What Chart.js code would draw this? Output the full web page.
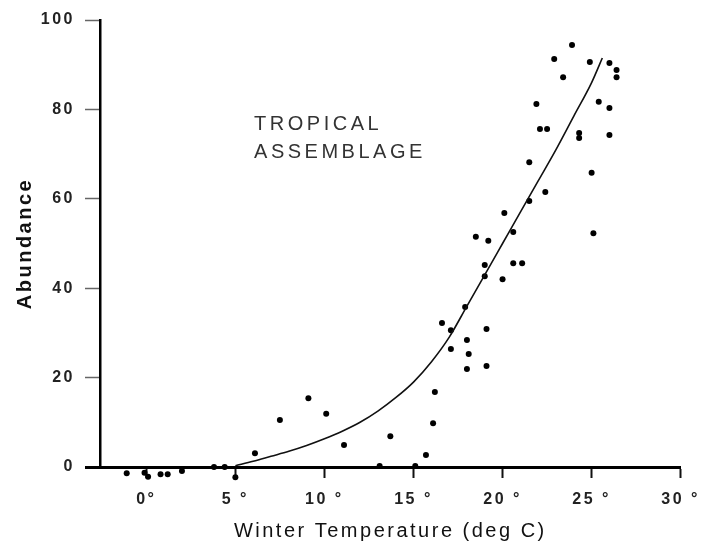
<!DOCTYPE html>
<html>
<head>
<meta charset="utf-8">
<script src="https://cdn.jsdelivr.net/npm/chart.js@4.4.0/dist/chart.umd.min.js"></script>
<style>
    html, body { margin: 0; padding: 0; background: #fff; }
    canvas { display: block; }
</style>
</head>
<body>
<canvas id="chart" width="707" height="545"></canvas>
<script>
const pointTemp = [
    -1.1, -0.1, 0.1, 0.8, 1.2, 2.0, 3.8, 4.4, 5.0,
    6.1, 7.5, 9.1, 10.1, 11.1, 13.1, 13.7, 15.1, 15.7, 16.1, 16.2,
    16.6, 17.1, 17.1, 17.9, 18.0, 18.1, 18.0, 18.5, 19.0, 19.0,
    19.1, 19.1, 19.2, 20.0, 20.1, 20.6, 20.6, 21.1, 21.5, 21.5,
    21.9, 22.1, 22.5, 22.4, 22.9, 23.4, 23.9, 24.3, 24.3, 24.9,
    25.0, 25.1, 25.4, 26.0, 26.4, 26.4, 26.0, 26.0
];
const pointAbund = [
    -1.4, -1.3, -2.2, -1.6, -1.6, -0.9, 0, 0, -2.3,
    3.1, 10.5, 15.4, 11.9, 4.9, 0.2, 6.9, 0.2, 2.7, 9.8, 16.8,
    32.2, 30.6, 26.4, 35.8, 28.4, 25.3, 21.9, 51.5, 45.2, 42.7,
    30.9, 22.6, 50.6, 42.0, 56.8, 52.6, 45.6, 45.6, 59.5, 68.2,
    81.2, 75.6, 75.6, 61.5, 91.3, 87.2, 94.4, 74.7, 73.6, 90.6,
    65.8, 52.3, 81.7, 90.4, 88.8, 87.2, 80.3, 74.3
];

// Fitted curve
const curveTemp  = [5, 6, 7, 8, 9, 10, 11, 12, 13, 14, 15, 16, 17, 18, 19, 20, 21, 22, 23, 24, 25, 25.6];
const curveAbund = [0.3, 1.3, 2.4, 3.5, 4.8, 6.3, 8, 10, 12.5, 15.5, 19, 23.5, 29, 36, 43, 50, 57, 64, 71, 78.5, 86, 91.5];

// Axis ticks
const xTickValues = [0, 5, 10, 15, 20, 25, 30];
const xTickLabels = ['0°', '5 °', '10 °', '15 °', '20 °', '25 °', '30 °'];
const yTickValues = [0, 20, 40, 60, 80, 100];
const yTickLabels = ['0', '20', '40', '60', '80', '100'];

const annotationLines = ['TROPICAL', 'ASSEMBLAGE'];

const fontFamily = '"Liberation Sans", Arial, sans-serif';
const textColor = '#111';

function toXY(xs, ys) {
    return xs.map((x, i) => ({ x: x, y: ys[i] }));
}

// wide letter spacing like the original lettering
const spacingPlugin = {
    id: 'spacing',
    beforeDraw(chart) { chart.ctx.letterSpacing = '2.5px'; },
    afterDraw(chart) { chart.ctx.letterSpacing = '0px'; }
};

// let the samples just under zero show below the axis line
const belowAxisPlugin = {
    id: 'belowAxis',
    beforeDatasetsDraw(chart) { chart.chartArea.bottom += 20; },
    afterDatasetsDraw(chart) { chart.chartArea.bottom -= 20; }
};

const annotationPlugin = {
    id: 'annotation',
    afterDraw(chart) {
        const ctx = chart.ctx;
        const x = chart.scales.x.getPixelForValue(6.05);
        const y0 = chart.scales.y.getPixelForValue(76.7);
        ctx.save();
        ctx.letterSpacing = '3.5px';
        ctx.font = '20px ' + fontFamily;
        ctx.fillStyle = '#333';
        ctx.textBaseline = 'middle';
        ctx.textAlign = 'left';
        annotationLines.forEach((line, i) => {
            ctx.fillText(line, x, y0 + i * 28);
        });
        ctx.restore();
    }
};

const ctx = document.getElementById('chart').getContext('2d');
new Chart(ctx, {
    type: 'scatter',
    data: {
        datasets: [
            {
                label: 'Fit',
                type: 'line',
                data: toXY(curveTemp, curveAbund),
                borderColor: '#111',
                borderWidth: 1.6,
                pointRadius: 0,
                cubicInterpolationMode: 'monotone',
                fill: false,
                clip: false
            },
            {
                label: 'Samples',
                data: toXY(pointTemp, pointAbund),
                backgroundColor: '#000',
                borderColor: '#000',
                borderWidth: 0,
                pointStyle: 'circle',
                pointRadius: 3,
                clip: false
            }
        ]
    },
    options: {
        responsive: false,
        animation: false,
        devicePixelRatio: 1,
        layout: { padding: { left: 0, right: 24, top: 20, bottom: 0 } },
        plugins: {
            legend: { display: false },
            tooltip: { enabled: false }
        },
        scales: {
            x: {
                type: 'linear',
                min: -2.6,
                max: 30,
                afterFit(scale) { scale.height = 78; },
                afterBuildTicks(scale) {
                    scale.ticks = xTickValues.map(v => ({ value: v }));
                },
                border: { display: true, color: '#000', width: 3 },
                grid: {
                    drawOnChartArea: false,
                    drawTicks: true,
                    tickLength: 11,
                    tickWidth: 2,
                    tickColor: '#111'
                },
                ticks: {
                    padding: 12,
                    color: '#222',
                    maxRotation: 0,
                    font: { family: fontFamily, size: 16, weight: 'bold' },
                    callback: (value) => xTickLabels[xTickValues.indexOf(value)]
                },
                title: {
                    display: true,
                    text: 'Winter Temperature (deg C)',
                    color: textColor,
                    font: { family: fontFamily, size: 20 },
                    padding: { top: 0, bottom: 2 }
                }
            },
            y: {
                type: 'linear',
                min: 0,
                max: 100,
                afterFit(scale) { scale.width = 100; },
                afterBuildTicks(scale) {
                    scale.ticks = yTickValues.map(v => ({ value: v }));
                },
                border: { display: true, color: '#000', width: 2.5 },
                grid: {
                    drawOnChartArea: false,
                    drawTicks: true,
                    tickLength: 15,
                    tickWidth: (c) => (c.tick && c.tick.value === 0 ? 3 : 1.5),
                    tickColor: (c) => (c.tick && c.tick.value === 0 ? '#000' : '#666')
                },
                ticks: {
                    padding: 10,
                    color: '#222',
                    font: { family: fontFamily, size: 16, weight: 'bold' },
                    callback: (value) => yTickLabels[yTickValues.indexOf(value)]
                },
                title: {
                    display: true,
                    text: 'Abundance',
                    color: textColor,
                    font: { family: fontFamily, size: 20, weight: 'bold' },
                    padding: { top: 13, bottom: 0 }
                }
            }
        }
    },
    plugins: [spacingPlugin, belowAxisPlugin, annotationPlugin]
});
</script>
</body>
</html>
